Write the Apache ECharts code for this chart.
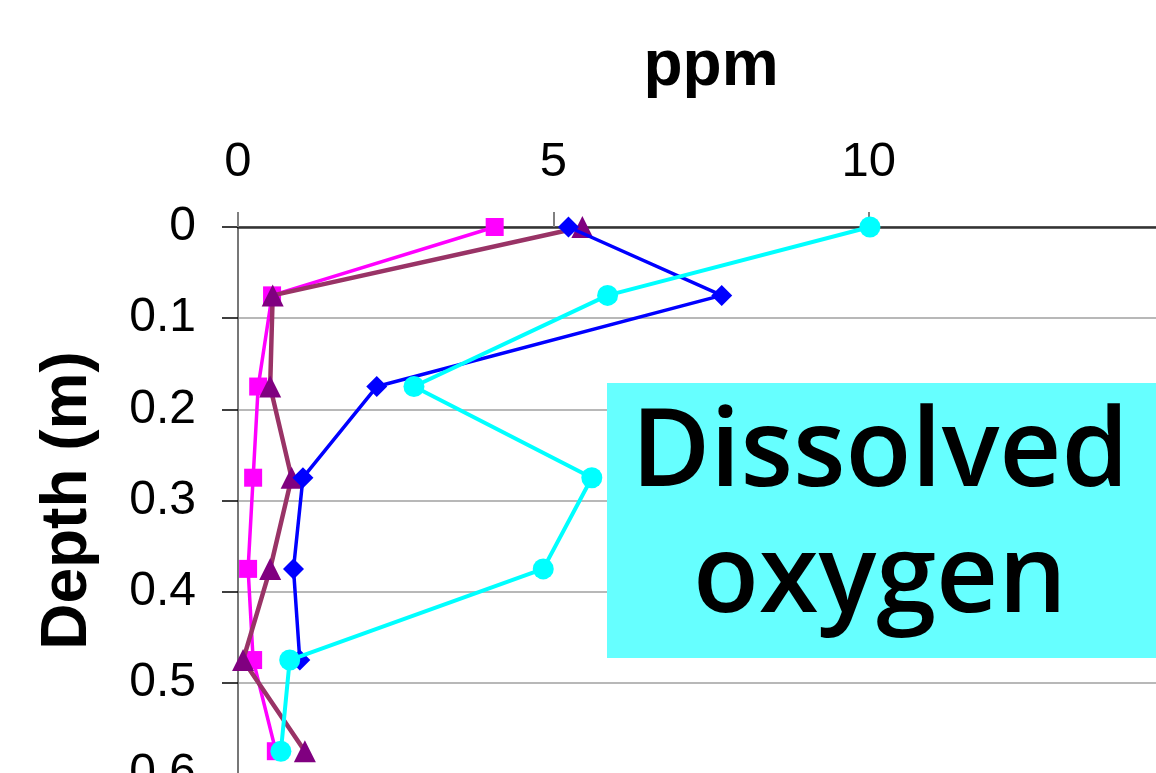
<!DOCTYPE html>
<html>
<head>
<meta charset="utf-8">
<script src="https://cdn.jsdelivr.net/npm/echarts@6/dist/echarts.min.js"></script>
<style>
  html, body { margin: 0; padding: 0; overflow: hidden; background: #fff; }
  #chart { width: 1400px; height: 900px; }
</style>
</head>
<body>
<div id="chart"></div>
<script>
// depth of each sample (m)
var depths = [0, 0.075, 0.175, 0.275, 0.375, 0.475, 0.575];
// dissolved oxygen readings (ppm), one array per profile
var magentaPpm = [4.07, 0.54, 0.32, 0.24, 0.16, 0.24, 0.60];
var purplePpm  = [5.46, 0.55, 0.51, 0.85, 0.51, 0.08, 1.06];
var bluePpm    = [5.24, 7.67, 2.20, 1.03, 0.88, 0.98];
var cyanPpm    = [10.02, 5.86, 2.79, 5.61, 4.84, 0.82, 0.68];
var xTicks = [0, 5, 10, 15];
var boxText = 'Dissolved\noxygen';

function pairs(vals) {
    var out = [];
    for (var i = 0; i < vals.length; i++) {
        out.push([vals[i], depths[i]]);
    }
    return out;
}

function lineSeries(vals, lineColor, markColor, symbol, size, width, z) {
    return {
        type: 'line',
        data: pairs(vals),
        symbol: symbol,
        symbolSize: size,
        showAllSymbol: true,
        z: z,
        lineStyle: { color: lineColor, width: width },
        itemStyle: { color: markColor, borderWidth: 0, opacity: 1 },
        emphasis: { disabled: true },
        animation: false
    };
}

var chart = echarts.init(document.getElementById('chart'), null, { renderer: 'canvas' });
var option = {
    backgroundColor: '#fff',
    animation: false,
    grid: { left: 238, top: 227, width: 946, height: 547 },
    xAxis: {
        type: 'value',
        position: 'top',
        min: xTicks[0],
        max: xTicks[xTicks.length - 1],
        interval: 5,
        name: 'ppm',
        nameLocation: 'middle',
        nameGap: 128,
        nameTextStyle: { fontFamily: 'Liberation Sans', fontWeight: 'bold', fontSize: 64, color: '#000' },
        axisLine: { show: true, lineStyle: { color: '#333', width: 2.5 } },
        axisTick: { show: true, length: 15, lineStyle: { color: '#808080', width: 2 } },
        axisLabel: { fontFamily: 'Liberation Sans', fontSize: 49, color: '#000', margin: 40 },
        splitLine: { show: false }
    },
    yAxis: {
        type: 'value',
        inverse: true,
        min: 0,
        max: 0.6,
        interval: 0.1,
        name: 'Depth (m)',
        nameLocation: 'middle',
        nameGap: 138,
        nameTextStyle: { fontFamily: 'Liberation Sans', fontWeight: 'bold', fontSize: 64, color: '#000' },
        axisLine: { show: true, lineStyle: { color: '#777', width: 2 } },
        axisTick: { show: true, length: 16, lineStyle: { color: '#000', width: 1.5 } },
        axisLabel: { fontFamily: 'Liberation Sans', fontSize: 48, color: '#000', margin: 42 },
        splitLine: { show: true, lineStyle: { color: '#a0a0a0', width: 1.5 } }
    },
    series: [
        lineSeries(magentaPpm, '#ff00ff', '#ff00ff', 'rect', 18, 3.5, 2),
        lineSeries(purplePpm, '#993366', '#800080', 'triangle', 22, 4.5, 3),
        lineSeries(bluePpm, '#0000ff', '#0000ff', 'diamond', 21, 3.5, 4),
        lineSeries(cyanPpm, '#00ffff', '#00ffff', 'circle', 21, 4, 5)
    ],
    graphic: [
        {
            type: 'rect',
            z: 100,
            shape: { x: 607, y: 383, width: 560, height: 275 },
            style: { fill: '#66ffff' }
        },
        {
            type: 'text',
            z: 101,
            x: 880,
            y: 518,
            style: {
                text: boxText,
                fontFamily: 'Open Sans',
                fontWeight: 600,
                fontSize: 108,
                lineHeight: 126,
                fill: '#000',
                align: 'center',
                verticalAlign: 'middle'
            }
        }
    ]
};
chart.setOption(option);
</script>
</body>
</html>
